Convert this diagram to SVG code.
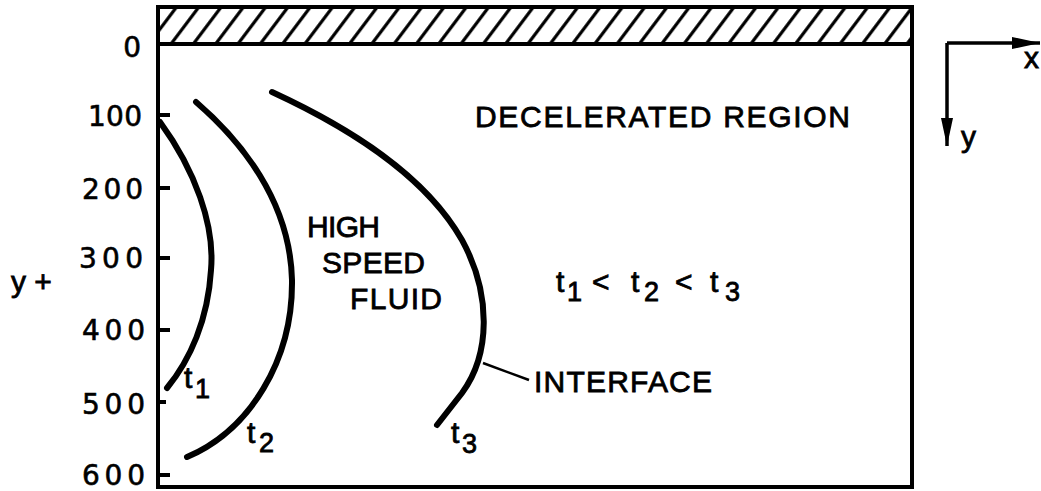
<svg xmlns="http://www.w3.org/2000/svg" width="1041" height="491" viewBox="0 0 1041 491">
<defs>
<style>
.txt{font-family:"Liberation Sans","Arial",sans-serif;font-size:30px;fill:#000;stroke:#000;stroke-width:0.8px;}
.num{font-family:"DejaVu Sans","Liberation Sans",sans-serif;font-size:28px;fill:#000;stroke:#000;stroke-width:0.6px;text-anchor:end;}
.sub{font-size:27px;}
.frame{fill:none;stroke:#000;stroke-width:4;}
.tick{stroke:#000;stroke-width:4;}
.curve{fill:none;stroke:#000;stroke-width:6;stroke-linecap:round;}
.lead{fill:none;stroke:#000;stroke-width:2.5;}
.axis{fill:none;stroke:#000;stroke-width:3.5;}
</style>
<pattern id="hatch" patternUnits="userSpaceOnUse" width="22.3" height="60" patternTransform="translate(160,44) skewX(-37)">
<line x1="11" y1="-10" x2="11" y2="70" stroke="#000" stroke-width="4"/>
</pattern>
<marker id="ah" markerWidth="30" markerHeight="14" refX="28" refY="7" orient="auto" markerUnits="userSpaceOnUse">
<path d="M0,1 L28,7 L0,13 Z" fill="#000"/>
</marker>
</defs>
<rect width="1041" height="491" fill="#fff"/>

<g id="wall">
<rect x="158" y="7" width="754" height="37" fill="url(#hatch)"/>
<path class="frame" d="M158,489 L158,7 L912,7 L912,489"/>
<line class="frame" x1="158" y1="44" x2="912" y2="44"/>
<line class="frame" x1="156" y1="487" x2="912" y2="487"/>
</g>

<g id="yaxis-scale">
<line class="tick" x1="158" y1="115" x2="170" y2="115"/>
<line class="tick" x1="158" y1="188" x2="170" y2="188"/>
<line class="tick" x1="158" y1="258" x2="170" y2="258"/>
<line class="tick" x1="158" y1="330" x2="170" y2="330"/>
<line class="tick" x1="158" y1="402" x2="166" y2="402"/>
<line class="tick" x1="158" y1="475" x2="170" y2="475"/>
<text class="num" x="141" y="57">0</text>
<text class="num" x="142" y="126" textLength="54">100</text>
<text class="num" x="143" y="199" textLength="61">200</text>
<text class="num" x="143" y="268" textLength="64">300</text>
<text class="num" x="145" y="340" textLength="63">400</text>
<text class="num" x="145" y="414" textLength="63">500</text>
<text class="num" x="145" y="485" textLength="63">600</text>
<text class="txt" x="11" y="292">y +</text>
</g>

<g id="interfaces">
<path id="t1-curve" class="curve" d="M160,122 C195,170 215,225 211,270 C208,320 190,360 167,388"/>
<path id="t2-curve" class="curve" d="M196,102 C240,140 290,200 292,280 C293,360 250,430 187,457"/>
<path id="t3-curve" class="curve" d="M272,92 C350,128 425,175 462,240 C492,295 490,355 462,393 L437,425"/>
</g>

<g id="label-t1"><text class="txt" x="184" y="388">t<tspan class="sub" x="195" dy="10">1</tspan></text></g>
<g id="label-t2"><text class="txt" x="247" y="443">t<tspan class="sub" x="259" dy="9">2</tspan></text></g>
<g id="label-t3"><text class="txt" x="451" y="443">t<tspan class="sub" x="462" dy="10">3</tspan></text></g>

<g id="label-decelerated"><text class="txt" x="475" y="127" textLength="375">DECELERATED  REGION</text></g>
<g id="label-highspeed">
<text class="txt" x="307" y="237" textLength="73">HIGH</text>
<text class="txt" x="322" y="273" textLength="103">SPEED</text>
<text class="txt" x="350" y="309" textLength="92">FLUID</text>
</g>
<g id="label-order"><text class="txt" y="292"><tspan x="556">t</tspan><tspan class="sub" x="567" dy="9">1</tspan><tspan x="592" dy="-9">&lt;</tspan><tspan x="631">t</tspan><tspan class="sub" x="644" dy="9">2</tspan><tspan x="675" dy="-9">&lt;</tspan><tspan x="710">t</tspan><tspan class="sub" x="725" dy="9">3</tspan></text></g>
<g id="label-interface"><text class="txt" x="534" y="392" textLength="178">INTERFACE</text></g>

<g id="connectors">
<line class="lead" x1="483" y1="363" x2="529" y2="380"/>
</g>

<g id="axes">
<path class="axis" d="M947,43 L1040,43" marker-end="url(#ah)"/>
<path class="axis" d="M947,43 L947,146" marker-end="url(#ah)"/>
<text class="txt" x="1024" y="68">x</text>
<text class="txt" x="961" y="147">y</text>
</g>
</svg>
